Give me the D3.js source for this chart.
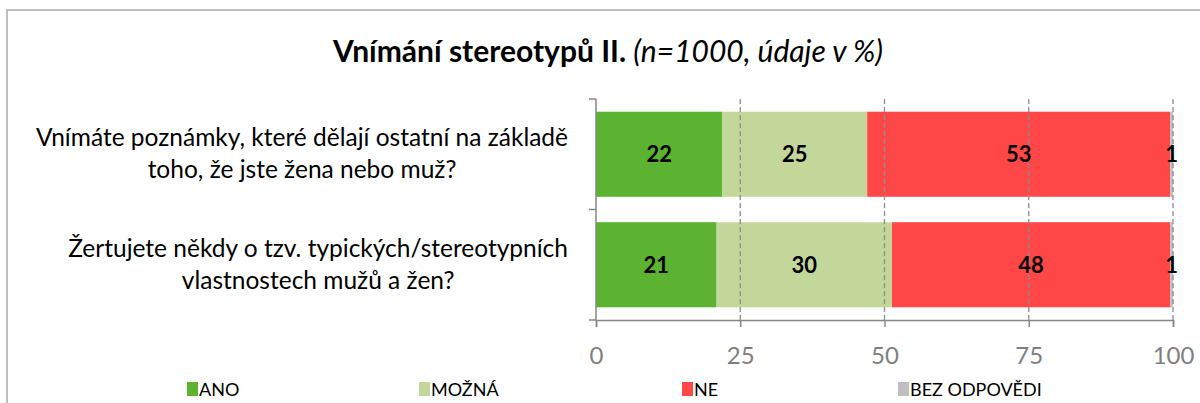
<!DOCTYPE html>
<html>
<head>
<meta charset="utf-8">
<script src="https://cdn.jsdelivr.net/npm/d3@7"></script>
<style>
  body { margin: 0; background: #fff; }
  svg text { font-family: Lato, "Open Sans", sans-serif; }
</style>
</head>
<body>
<div id="chart"></div>
<script>
// data
var questions = [
  ["Vnímáte poznámky, které dělají ostatní na základě", "toho, že jste žena nebo muž?"],
  ["Žertujete někdy o tzv. typických/stereotypních", "vlastnostech mužů a žen?"]
];
var seriesNames = ["ANO", "MOŽNÁ", "NE", "BEZ ODPOVĚDI"];
var ano = [21.9, 20.9];
var mozna = [25.1, 30.4];
var ne = [52.5, 48.2];
var bezOdpovedi = [0.5, 0.5];
var xTicks = [0, 25, 50, 75, 100];

var colors = ["#5bb331", "#c4d79b", "#ff4747", "#bfbfbf"];

var W = 1200, H = 403;
var margin = {top: 99, left: 596, right: 27, bottom: 83};

var svg = d3.select("#chart").append("svg")
    .attr("width", W)
    .attr("height", H);

// chart border (only left/top visible in crop)
svg.append("path")
  .attr("d", "M7,403 V10 H1200")
  .attr("fill", "none")
  .attr("stroke", "#bfbfbf")
  .attr("stroke-width", 2);

// title
var title = svg.append("text")
  .attr("x", 608)
  .attr("y", 62)
  .attr("text-anchor", "middle")
  .style("font-size", "30px");
title.append("tspan").style("font-weight", "bold").text("Vnímání stereotypů II. ");
title.append("tspan").style("font-style", "italic").text("(n=1000, údaje v %)");

var g = svg.append("g")
  .attr("transform", "translate(" + margin.left + "," + margin.top + ")");

var iw = W - margin.left - margin.right,
    ih = H - margin.top - margin.bottom;

var x = d3.scaleLinear().domain([0, 100]).range([0, iw]);
var y = d3.scaleBand().domain(d3.range(questions.length)).range([0, ih]).paddingInner(0.23).paddingOuter(0.115);

// rows for stack
var rows = questions.map(function(q, i) {
  return {i: i, ANO: ano[i], "MOŽNÁ": mozna[i], NE: ne[i], "BEZ ODPOVĚDI": bezOdpovedi[i]};
});
var stack = d3.stack().keys(seriesNames)(rows);

// bars
stack.forEach(function(layer, k) {
  g.selectAll(".bar" + k)
    .data(layer)
    .enter()
    .append("rect")
      .attr("x", function(d) { return x(d[0]); })
      .attr("width", function(d) { return x(d[1]) - x(d[0]); })
      .attr("y", function(d) { return y(d.data.i); })
      .attr("height", y.bandwidth())
      .attr("fill", colors[k]);
});

// dashed gridlines (drawn over bars like in the original)
g.selectAll(".grid")
  .data(xTicks.slice(1))
  .enter()
  .append("line")
    .attr("x1", function(d) { return x(d); })
    .attr("x2", function(d) { return x(d); })
    .attr("y1", 0)
    .attr("y2", ih)
    .attr("stroke", "#8c8c8c")
    .attr("stroke-width", 1.3)
    .attr("stroke-dasharray", "5,3");

// data labels
stack.forEach(function(layer, k) {
  g.selectAll(".lab" + k)
    .data(layer)
    .enter()
    .append("text")
      .attr("x", function(d) { return (x(d[0]) + x(d[1])) / 2; })
      .attr("y", function(d) { return y(d.data.i) + y.bandwidth() / 2 + 8; })
      .attr("text-anchor", "middle")
      .style("font-size", "22px")
      .style("font-weight", "bold")
      .text(function(d) { return Math.round(d[1] - d[0]); });
});

// x axis
var xAxis = g.append("g")
  .attr("transform", "translate(0," + ih + ")")
  .call(d3.axisBottom(x).tickValues(xTicks).tickSize(7).tickPadding(20));
xAxis.select(".domain").attr("stroke", "#868686").attr("stroke-width", 1.5);
xAxis.selectAll(".tick line").attr("stroke", "#868686").attr("stroke-width", 1.5);
xAxis.selectAll(".tick text")
  .attr("fill", "#7f7f7f")
  .style("font-size", "24px")
  .style("font-family", "Lato, sans-serif");

// y axis line with outward ticks at band boundaries
g.append("line")
  .attr("x1", 0).attr("x2", 0).attr("y1", 0).attr("y2", ih)
  .attr("stroke", "#868686").attr("stroke-width", 1.5);
g.selectAll(".ytick")
  .data(d3.range(questions.length + 1))
  .enter()
  .append("line")
    .attr("x1", -7).attr("x2", 0)
    .attr("y1", function(d) { return d * ih / questions.length; })
    .attr("y2", function(d) { return d * ih / questions.length; })
    .attr("stroke", "#868686").attr("stroke-width", 1.5);

// category labels (centered block, right edge near the axis)
questions.forEach(function(lines, i) {
  var t = g.append("text")
    .attr("text-anchor", "middle")
    .style("font-size", "24.5px");
  var cy = y(i) + y.bandwidth() / 2;
  lines.forEach(function(line, j) {
    t.append("tspan")
      .attr("y", cy + (j - (lines.length - 1) / 2) * 32 + 8)
      .text(line);
  });
  var maxW = d3.max(t.selectAll("tspan").nodes(), function(n) { return n.getComputedTextLength(); });
  t.selectAll("tspan").attr("x", -28 - maxW / 2);
});

// legend
var legendX = [187, 419, 682, 898];
var legend = svg.selectAll(".legend")
  .data(seriesNames)
  .enter()
  .append("g")
    .attr("transform", function(d, i) { return "translate(" + legendX[i] + ",382)"; });
legend.append("rect")
  .attr("width", 11).attr("height", 14)
  .attr("fill", function(d, i) { return colors[i]; });
legend.append("text")
  .attr("x", 12)
  .attr("y", 14)
  .style("font-size", "18px")
  .text(function(d) { return d; });
</script>
</body>
</html>
